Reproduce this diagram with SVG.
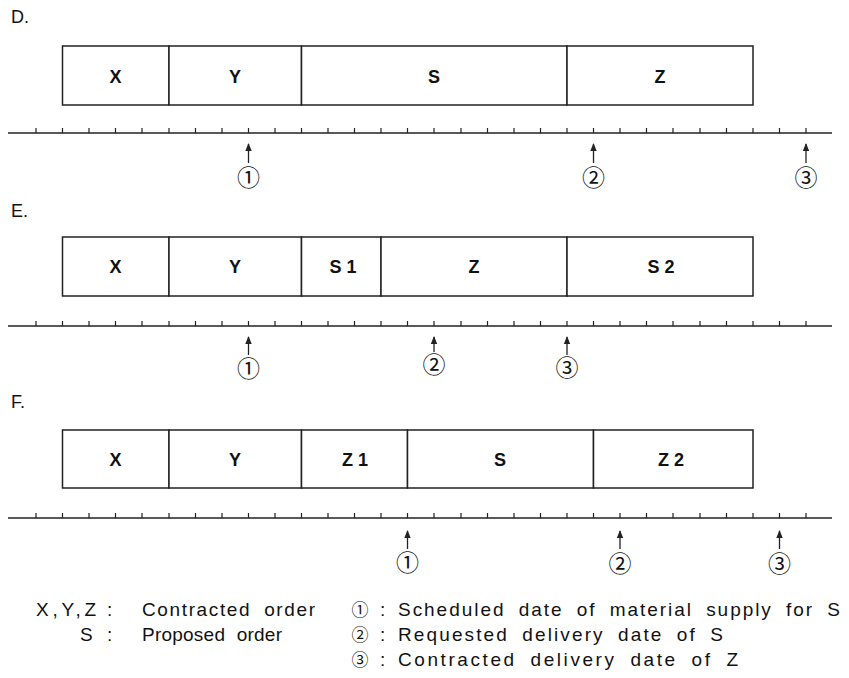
<svg xmlns="http://www.w3.org/2000/svg" width="849" height="678" viewBox="0 0 849 678">
<style>
.box{fill:#fff;stroke:#222;stroke-width:1.5}
.bl{font-family:"Liberation Sans",Arial,sans-serif;font-weight:bold;font-size:18px;fill:#111;text-anchor:middle}
.pl{font-family:"Liberation Sans",Arial,sans-serif;font-size:18px;fill:#111}
.lg{font-family:"Liberation Sans",Arial,sans-serif;font-size:19px;fill:#111}
.cn{font-family:"Noto Sans CJK JP","DejaVu Sans",sans-serif;font-size:23px;fill:#111;text-anchor:middle}
.cl{font-family:"Noto Sans CJK JP","DejaVu Sans",sans-serif;font-size:17px;fill:#111;text-anchor:middle}
.ax{stroke:#222;stroke-width:1.5;fill:none}
.tk{stroke:#222;stroke-width:1.2;fill:none}
.ar{stroke:#222;stroke-width:1.3;fill:none;marker-end:url(#ah)}
</style>
<defs>
<marker id="ah" viewBox="0 0 8 8" refX="7" refY="4" markerWidth="8" markerHeight="8" markerUnits="userSpaceOnUse" orient="auto">
<path d="M0 0.8L8 4L0 7.2Z" fill="#222"/>
</marker>
<g id="axis">
<line class="ax" x1="8" y1="0" x2="832" y2="0"/>
<path class="tk" d="M36 -5v5M62.5 -5v5M89 -5v5M115.5 -5v5M142 -5v5M169 -5v5M195.5 -5v5M222 -5v5M248.5 -5v5M275 -5v5M301.5 -5v5M328 -5v5M354.5 -5v5M381 -5v5M407.5 -5v5M434 -5v5M461 -5v5M487.5 -5v5M514 -5v5M540.5 -5v5M567 -5v5M593.5 -5v5M620 -5v5M646.5 -5v5M673 -5v5M700 -5v5M726.5 -5v5M753 -5v5M779.5 -5v5M806 -5v5"/>
</g>
</defs>
<rect width="849" height="678" fill="#fff"/>

<text class="pl" x="11" y="23">D.</text>
<text class="pl" x="11" y="217">E.</text>
<text class="pl" x="11" y="408">F.</text>

<g id="axes">
<use href="#axis" transform="translate(0,133)"/>
<use href="#axis" transform="translate(0,326)"/>
<use href="#axis" transform="translate(0,518)"/>
</g>

<g id="D-X"><rect class="box" x="62.5" y="46" width="106.5" height="59"/><text class="bl" x="115.5" y="83">X</text></g>
<g id="D-Y"><rect class="box" x="169" y="46" width="132.5" height="59"/><text class="bl" x="235" y="83">Y</text></g>
<g id="D-S"><rect class="box" x="301.5" y="46" width="265.5" height="59"/><text class="bl" x="434" y="83">S</text></g>
<g id="D-Z"><rect class="box" x="567" y="46" width="186" height="59"/><text class="bl" x="660" y="83">Z</text></g>

<g id="E-X"><rect class="box" x="62.5" y="237" width="106.5" height="59"/><text class="bl" x="115.5" y="273">X</text></g>
<g id="E-Y"><rect class="box" x="169" y="237" width="132.5" height="59"/><text class="bl" x="235" y="273">Y</text></g>
<g id="E-S1"><rect class="box" x="301.5" y="237" width="79.5" height="59"/><text class="bl" x="343" y="273">S 1</text></g>
<g id="E-Z"><rect class="box" x="381" y="237" width="186" height="59"/><text class="bl" x="474" y="273">Z</text></g>
<g id="E-S2"><rect class="box" x="567" y="237" width="186" height="59"/><text class="bl" x="661" y="273">S 2</text></g>

<g id="F-X"><rect class="box" x="62.5" y="430" width="106.5" height="58"/><text class="bl" x="115.5" y="466">X</text></g>
<g id="F-Y"><rect class="box" x="169" y="430" width="132.5" height="58"/><text class="bl" x="235" y="466">Y</text></g>
<g id="F-Z1"><rect class="box" x="301.5" y="430" width="106" height="58"/><text class="bl" x="355" y="466">Z 1</text></g>
<g id="F-S"><rect class="box" x="407.5" y="430" width="186" height="58"/><text class="bl" x="500" y="466">S</text></g>
<g id="F-Z2"><rect class="box" x="593.5" y="430" width="159.5" height="58"/><text class="bl" x="671" y="466">Z 2</text></g>

<g id="connectors">
<line class="ar" x1="248.5" y1="163" x2="248.5" y2="144"/>
<line class="ar" x1="593.5" y1="163" x2="593.5" y2="144"/>
<line class="ar" x1="806" y1="163" x2="806" y2="144"/>
<line class="ar" x1="248.5" y1="355" x2="248.5" y2="337"/>
<line class="ar" x1="434" y1="352" x2="434" y2="337"/>
<line class="ar" x1="567" y1="355" x2="567" y2="337"/>
<line class="ar" x1="407.5" y1="549" x2="407.5" y2="531"/>
<line class="ar" x1="620" y1="549" x2="620" y2="531"/>
<line class="ar" x1="779.5" y1="549" x2="779.5" y2="531"/>
</g>

<g id="marks">
<text class="cn" x="248.5" y="186">①</text>
<text class="cn" x="593.5" y="186">②</text>
<text class="cn" x="806" y="186">③</text>
<text class="cn" x="248.5" y="377">①</text>
<text class="cn" x="434" y="373">②</text>
<text class="cn" x="567" y="376">③</text>
<text class="cn" x="407.5" y="571">①</text>
<text class="cn" x="620" y="572">②</text>
<text class="cn" x="779.5" y="572">③</text>
</g>

<g id="legend">
<text class="lg" x="36" y="616" textLength="60" lengthAdjust="spacing">X,Y,Z</text>
<text class="lg" x="107" y="616">:</text>
<text class="lg" x="142" y="616" word-spacing="6" textLength="173" lengthAdjust="spacing">Contracted order</text>
<text class="cl" x="360" y="616">①</text>
<text class="lg" x="380" y="616">:</text>
<text class="lg" x="398" y="616" word-spacing="6" textLength="442" lengthAdjust="spacing">Scheduled date of material supply for S</text>

<text class="lg" x="80" y="641">S</text>
<text class="lg" x="107" y="641">:</text>
<text class="lg" x="142" y="641" word-spacing="6" textLength="140" lengthAdjust="spacing">Proposed order</text>
<text class="cl" x="360" y="641">②</text>
<text class="lg" x="380" y="641">:</text>
<text class="lg" x="398" y="641" word-spacing="6" textLength="325" lengthAdjust="spacing">Requested delivery date of S</text>

<text class="cl" x="360" y="666">③</text>
<text class="lg" x="380" y="666">:</text>
<text class="lg" x="398" y="666" word-spacing="6" textLength="340" lengthAdjust="spacing">Contracted delivery date of Z</text>
</g>
</svg>
